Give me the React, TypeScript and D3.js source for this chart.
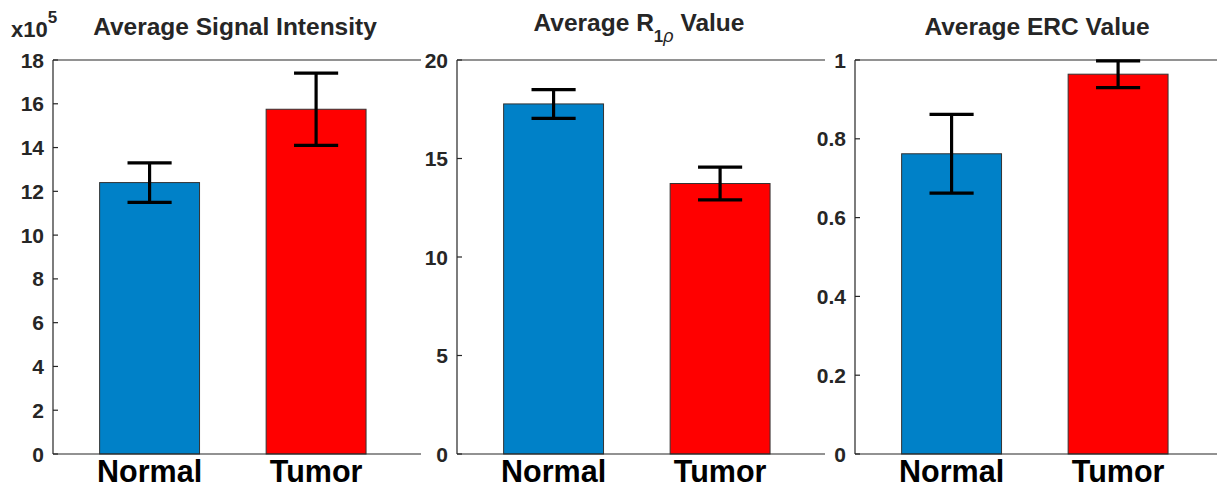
import React from "react";
import * as d3 from "d3";

const categories = ["Normal", "Tumor"];
const barColors = ["#0081c8", "#ff0000"];

const signalMeans = [12.4, 15.75];
const signalErrors = [0.9, 1.65];
const signalTicks = [0, 2, 4, 6, 8, 10, 12, 14, 16, 18];

const r1rhoMeans = [17.77, 13.73];
const r1rhoErrors = [0.73, 0.83];
const r1rhoTicks = [0, 5, 10, 15, 20];

const ercMeans = [0.762, 0.964];
const ercErrors = [0.1, 0.034];
const ercTicks = [0, 0.2, 0.4, 0.6, 0.8, 1];

const width = 1217;
const height = 487;
const top = 60;
const bottom = 454;
const plotW = 368;
const font = "'Liberation Sans', Arial, sans-serif";
const axisColor = "#262626";

const panels = [
  { left: 53, means: signalMeans, errs: signalErrors, ticks: signalTicks, max: 18, title: "signal" },
  { left: 457, means: r1rhoMeans, errs: r1rhoErrors, ticks: r1rhoTicks, max: 20, title: "r1rho" },
  { left: 855, means: ercMeans, errs: ercErrors, ticks: ercTicks, max: 1, title: "erc" },
];

const Title = ({ kind, x }: { kind: string; x: number }) => {
  const common = {
    x,
    y: 35,
    textAnchor: "middle" as const,
    fontFamily: font,
    fontWeight: 700,
    fontSize: 24.5,
    fill: axisColor,
  };
  if (kind === "signal") return <text {...common}>Average Signal Intensity</text>;
  if (kind === "erc") return <text {...common}>Average ERC Value</text>;
  return (
    <text {...common} y={31}>
      Average R
      <tspan dy={11} fontSize={17}>1</tspan>
      <tspan fontSize={18} fontStyle="italic" fontWeight={400}>ρ</tspan>
      <tspan dy={-11}> Value</tspan>
    </text>
  );
};

const Panel = ({ p }: { p: (typeof panels)[number] }) => {
  const x = d3.scaleLinear().domain([0.42, 2.63]).range([p.left, p.left + plotW]);
  const y = d3.scaleLinear().domain([0, p.max]).range([bottom, top]);
  const barW = x(1.6) - x(1);
  const capW = x(1.265) - x(1);
  const fmt = (v: number) => (p.max === 1 ? (v === 0 || v === 1 ? String(v) : v.toFixed(1)) : String(v));
  return (
    <g>
      {p.means.map((m, i) => (
        <rect
          key={categories[i]}
          x={x(i + 1) - barW / 2}
          y={y(m)}
          width={barW}
          height={y(0) - y(m)}
          fill={barColors[i]}
          stroke="#333"
          strokeWidth={1}
        />
      ))}
      <line x1={p.left} x2={p.left + plotW} y1={top} y2={top} stroke={axisColor} strokeWidth={1.2} />
      <line x1={p.left} x2={p.left + plotW} y1={bottom} y2={bottom} stroke={axisColor} strokeWidth={1.2} />
      <line x1={p.left} x2={p.left} y1={top} y2={bottom} stroke={axisColor} strokeWidth={1.2} />
      {p.ticks.map((t) => (
        <g key={t}>
          <line x1={p.left} x2={p.left + 5} y1={y(t)} y2={y(t)} stroke={axisColor} strokeWidth={1.2} />
          <text
            x={p.left - 9}
            y={y(t)}
            dy="0.36em"
            textAnchor="end"
            fontFamily={font}
            fontWeight={700}
            fontSize={21}
            fill={axisColor}
          >
            {fmt(t)}
          </text>
        </g>
      ))}
      {p.means.map((m, i) => (
        <g key={"e" + i} stroke="#000" strokeWidth={3.2}>
          <line x1={x(i + 1)} x2={x(i + 1)} y1={y(m + p.errs[i])} y2={y(m - p.errs[i])} />
          <line x1={x(i + 1) - capW / 2} x2={x(i + 1) + capW / 2} y1={y(m + p.errs[i])} y2={y(m + p.errs[i])} />
          <line x1={x(i + 1) - capW / 2} x2={x(i + 1) + capW / 2} y1={y(m - p.errs[i])} y2={y(m - p.errs[i])} />
        </g>
      ))}
      {categories.map((c, i) => (
        <text
          key={c}
          x={x(i + 1)}
          y={482}
          textAnchor="middle"
          fontFamily={font}
          fontWeight={700}
          fontSize={30.5}
          fill="#000"
        >
          {c}
        </text>
      ))}
      <Title kind={p.title} x={p.left + plotW / 2 - 2} />
    </g>
  );
};

export default function App() {
  return (
    <svg
      width={width}
      height={height}
      style={{ position: "absolute", left: 0, top: 0, background: "#fff" }}
    >
      <rect width={width} height={height} fill="#fff" />
      {panels.map((p) => (
        <Panel key={p.title} p={p} />
      ))}
      <text x={11} y={37} fontFamily={font} fontWeight={700} fontSize={22} fill={axisColor}>
        x10
        <tspan dy={-14} fontSize={17}>5</tspan>
      </text>
    </svg>
  );
}
